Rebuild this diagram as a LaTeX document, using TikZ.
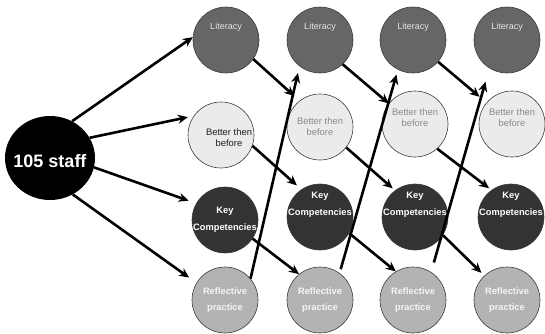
\documentclass[tikz,border=0pt]{standalone}
\usepackage{fontspec}
\setmainfont{Liberation Sans}
\usetikzlibrary{arrows.meta,shapes.geometric}
\definecolor{litfill}{HTML}{666666}
\definecolor{littext}{HTML}{E6E6E6}
\definecolor{betfill}{HTML}{EBEBEB}
\definecolor{bettextA}{HTML}{1E1E1E}
\definecolor{bettextB}{HTML}{8A8A8A}
\definecolor{keyfill}{HTML}{333333}
\definecolor{reffill}{HTML}{B3B3B3}
\definecolor{circline}{HTML}{3C3C3C}
\begin{document}
\begin{tikzpicture}[x=1pt,y=-1pt,
  circ/.style={circle,draw=circline,line width=0.6pt,minimum size=66pt,inner sep=0pt},
  litc/.style={circ,fill=litfill},
  betc/.style={circ,fill=betfill},
  keyc/.style={circ,fill=keyfill},
  refc/.style={circ,fill=reffill},
  littxt/.style={inner sep=0pt,text=littext,font=\fontsize{9}{11}\selectfont},
  bettxt/.style={inner sep=0pt,align=center,text=bettextB,font=\fontsize{9.4}{11}\selectfont},
  keytxt/.style={inner sep=0pt,align=center,text=white,font=\fontsize{9.3}{16.5}\selectfont\bfseries},
  reftxt/.style={inner sep=0pt,align=center,text=white!96!black,font=\fontsize{9.3}{16}\selectfont\bfseries},
  arr/.style={line width=2.6pt,-{Stealth[length=10pt,width=9pt]}},
]
\useasboundingbox (0,0) rectangle (545,333);

% source
\node[ellipse,fill=black,minimum width=90pt,minimum height=84pt,inner sep=0pt] (staff) at (50,158) {};
\node[inner sep=0pt,text=white,font=\fontsize{18}{20}\selectfont\bfseries] (tstaff) at ([yshift=-3pt]staff.center) {105 staff};

% circles
\node[litc] (l1) at (226,40) {};
\node[litc] (l2) at (320,40) {};
\node[litc] (l3) at (413,40) {};
\node[litc] (l4) at (507,40) {};

\node[betc] (b1) at (221,135) {};
\node[betc] (b2) at (320,127) {};
\node[betc] (b3) at (415,124) {};
\node[betc] (b4) at (512,124) {};

\node[keyc] (k1) at (225,220) {};
\node[keyc] (k2) at (320,217) {};
\node[keyc] (k3) at (415,217) {};
\node[keyc] (k4) at (511,217) {};

\node[refc] (r1) at (225,300) {};
\node[refc] (r2) at (320,300) {};
\node[refc] (r3) at (413,300) {};
\node[refc] (r4) at (507,300) {};

% texts
\node[littxt] (tl1) at ([yshift=13pt]l1.center) {Literacy};
\node[littxt] (tl2) at ([yshift=13pt]l2.center) {Literacy};
\node[littxt] (tl3) at ([yshift=13pt]l3.center) {Literacy};
\node[littxt] (tl4) at ([yshift=13pt]l4.center) {Literacy};

\node[bettxt,text=bettextA] (tb1) at ([xshift=8pt,yshift=-3pt]b1.center) {Better then\\before};
\node[bettxt] (tb2) at (b2.center) {Better then\\before};
\node[bettxt] (tb3) at ([yshift=6pt]b3.center) {Better then\\before};
\node[bettxt] (tb4) at ([yshift=6pt]b4.center) {Better then\\before};

\node[keytxt] (tk1) at (k1.center) {Key\\Competencies};
\node[keytxt] (tk2) at ([yshift=12pt]k2.center) {Key\\Competencies};
\node[keytxt] (tk3) at ([yshift=12pt]k3.center) {Key\\Competencies};
\node[keytxt] (tk4) at ([yshift=12pt]k4.center) {Key\\Competencies};

\node[reftxt] (tr1) at (r1.center) {Reflective\\practice};
\node[reftxt] (tr2) at (r2.center) {Reflective\\practice};
\node[reftxt] (tr3) at (r3.center) {Reflective\\practice};
\node[reftxt] (tr4) at (r4.center) {Reflective\\practice};

% arrows from staff
\draw[arr] (staff.59) -- (l1.175);
\draw[arr,shorten >=6pt] (staff.27) -- (b1.145);
\draw[arr,shorten >=8pt] (staff.-12) -- (k1.150);
\draw[arr,shorten >=9pt] (staff.-58) -- (r1.149);

% diagonal arrows
\draw[arr,shorten >=7pt] (l1.-35) -- (b2.128);
\draw[arr] (l2.-47) -- (b3.142);
\draw[arr,shorten >=9pt] (l3.-41) -- (b4.140);
\draw[arr,shorten >=6pt] (b1.-19) -- (k2.124);
\draw[arr,shorten >=3pt] (b2.-38) -- (k3.127);
\draw[arr,shorten >=3pt] (b3.-48) -- (k4.126);
\draw[arr] (k1.-34) -- (r2.129);
\draw[arr] (k2.-29) -- (r3.121);
\draw[arr,shorten >=4pt] (k3.-33) -- (r4.133);

% upward arrows
\draw[arr,shorten >=7pt] (r1.40) -- (l2.232);
\draw[arr,shorten <=4pt,shorten >=5pt] (r2.54) -- (l3.243);
\draw[arr,shorten <=10pt,shorten >=14pt] (r3.57) -- (l4.238);
\end{tikzpicture}
\end{document}
